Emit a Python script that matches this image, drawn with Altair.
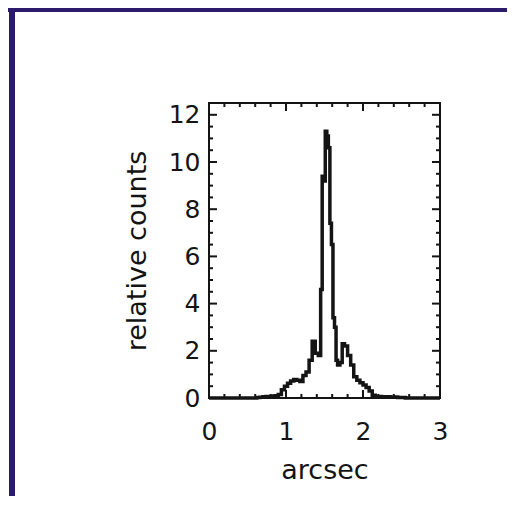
import altair as alt
import pandas as pd

# profile data (arcsec vs relative counts)
arcsec = [0.00, 0.20, 0.40, 0.60, 0.64, 0.68, 0.72, 0.76, 0.80, 0.84, 0.88, 0.92,
          0.96, 1.00, 1.04, 1.08, 1.12, 1.16, 1.20, 1.24, 1.28, 1.32, 1.36, 1.40,
          1.44, 1.46, 1.48, 1.50, 1.52, 1.54, 1.56, 1.58, 1.60, 1.62, 1.64, 1.66,
          1.68, 1.72, 1.74, 1.78, 1.82, 1.86, 1.90, 1.94, 1.98, 2.02, 2.06, 2.10,
          2.14, 2.18, 2.30, 2.40, 2.50, 2.60, 2.80, 3.00]
counts = [0.0, 0.0, 0.0, 0.0, 0.02, 0.03, 0.05, 0.06, 0.05, 0.08, 0.10, 0.15,
          0.35, 0.50, 0.62, 0.72, 0.78, 0.75, 0.70, 0.95, 1.10, 1.60, 2.40, 1.90,
          1.80, 4.60, 9.40, 9.20, 11.30, 11.10, 10.60, 7.40, 6.50, 3.40, 3.00, 1.60,
          1.40, 1.50, 2.30, 2.20, 1.80, 1.40, 0.90, 0.75, 0.65, 0.55, 0.45, 0.30,
          0.12, 0.06, 0.05, 0.04, 0.02, 0.0, 0.0, 0.0]

x_major = [0, 1, 2, 3]
x_minor = [0.2, 0.4, 0.6, 0.8, 1.2, 1.4, 1.6, 1.8, 2.2, 2.4, 2.6, 2.8]
y_major = [0, 2, 4, 6, 8, 10, 12]
y_minor = [0.5, 1, 1.5, 2.5, 3, 3.5, 4.5, 5, 5.5, 6.5, 7, 7.5, 8.5, 9, 9.5,
           10.5, 11, 11.5, 12.5]

W, H = 231, 295
xs = alt.Scale(domain=[0, 3], nice=False, zero=False)
ys = alt.Scale(domain=[0, 12.5], nice=False, zero=False)
INK = "#141414"
FONT = "DejaVu Sans"

df = pd.DataFrame({"arcsec": arcsec, "counts": counts})

line = alt.Chart(df).mark_line(interpolate="step", color=INK, strokeWidth=3.5).encode(
    x=alt.X("arcsec:Q", scale=xs,
            axis=alt.Axis(values=x_major, format="d", title="arcsec",
                          labelPadding=21, titlePadding=13, labelFlush=False)),
    y=alt.Y("counts:Q", scale=ys,
            axis=alt.Axis(values=y_major, format="d", title="relative counts",
                          labelPadding=9, titlePadding=17)),
)

def xticks(vals, ln):
    d = pd.DataFrame({"v": vals})
    bot = alt.Chart(d).mark_rule(color=INK, strokeWidth=2).encode(
        x=alt.X("v:Q", scale=xs), y=alt.value(H), y2=alt.value(H - ln))
    top = alt.Chart(d).mark_rule(color=INK, strokeWidth=2).encode(
        x=alt.X("v:Q", scale=xs), y=alt.value(0), y2=alt.value(ln))
    return [bot, top]

def yticks(vals, ln):
    d = pd.DataFrame({"v": vals})
    left = alt.Chart(d).mark_rule(color=INK, strokeWidth=2).encode(
        y=alt.Y("v:Q", scale=ys), x=alt.value(0), x2=alt.value(ln))
    right = alt.Chart(d).mark_rule(color=INK, strokeWidth=2).encode(
        y=alt.Y("v:Q", scale=ys), x=alt.value(W), x2=alt.value(W - ln))
    return [left, right]

dummy = pd.DataFrame({"a": [0]})
frame_top = alt.Chart(dummy).mark_rule(color="#2b1b6d", strokeWidth=6).encode(
    x=alt.value(-205), x2=alt.value(320), y=alt.value(-94))
frame_left = alt.Chart(dummy).mark_rule(color="#2b1b6d", strokeWidth=6).encode(
    x=alt.value(-197), y=alt.value(-100), y2=alt.value(420))

layers = [line] + xticks(x_major, 8) + xticks(x_minor, 4) + yticks(y_major, 8) + yticks(y_minor, 4) + [frame_top, frame_left]

chart = alt.layer(*layers).properties(
    width=W, height=H,
    autosize=alt.AutoSizeParams(type="none"),
    padding={"left": 201, "top": 95, "right": 67, "bottom": 98},
    background="white",
).configure_view(
    stroke=INK, strokeWidth=2
).configure_axis(
    grid=False, ticks=False, domain=False,
    labelFont=FONT, labelFontSize=25, labelColor=INK,
    titleFont=FONT, titleFontSize=27, titleColor=INK, titleFontWeight="normal",
)

chart.save("out.html", embed_options={"renderer": "svg", "actions": False})
